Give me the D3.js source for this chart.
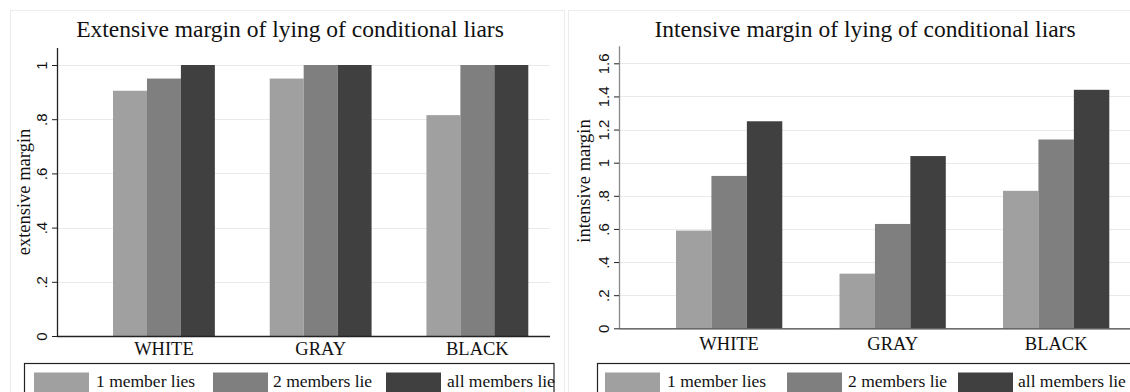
<!DOCTYPE html>
<html><head><meta charset="utf-8">
<script src="https://cdn.jsdelivr.net/npm/d3@7"></script>
<style>
html,body{margin:0;padding:0;background:#fff;}
svg{display:block;}
</style></head>
<body>
<svg id="chart" width="1130" height="392"></svg>
<script>
// ---- data ----
const categories = ["WHITE", "GRAY", "BLACK"];
const series = ["1 member lies", "2 members lie", "all members lie"];
const extensiveValues = [
  [0.905, 0.95, 1.0],   // WHITE
  [0.95, 1.0, 1.0],     // GRAY
  [0.815, 1.0, 1.0]     // BLACK
];
const intensiveValues = [
  [0.59, 0.92, 1.25],   // WHITE
  [0.33, 0.63, 1.04],   // GRAY
  [0.83, 1.14, 1.44]    // BLACK
];
const extensiveTicks = [0, 0.2, 0.4, 0.6, 0.8, 1];
const extensiveTickLabels = ["0", ".2", ".4", ".6", ".8", "1"];
const intensiveTicks = [0, 0.2, 0.4, 0.6, 0.8, 1, 1.2, 1.4, 1.6];
const intensiveTickLabels = ["0", ".2", ".4", ".6", ".8", "1", "1.2", "1.4", "1.6"];
const titles = ["Extensive margin of lying of conditional liars", "Intensive margin of lying of conditional liars"];
const yTitles = ["extensive margin", "intensive margin"];

// ---- style ----
const colors = ["#a0a0a0", "#7f7f7f", "#404040"];
const serif = "'Liberation Serif','Times New Roman',serif";
const sans = "'Liberation Sans',Arial,sans-serif";

const svg = d3.select("#chart");

const panels = [
  {
    values: extensiveValues, ticks: extensiveTicks, tickLabels: extensiveTickLabels,
    title: titles[0], yTitle: yTitles[0], yMax: 1,
    box: [10, 10, 554, 400],
    axisX: 57, plotRight: 550, yTop: 65, yBottom: 336,
    bandRange: [113, 528.3],
    titleX: 290, titleY: 37,
    yTitleX: 30, yTitleY: 192,
    catY: 355,
    legendBox: [24.5, 363.5, 529.5, 40],
    legendX: [34, 213, 386], legendTextX: [96, 273, 447],
    yAxisColor: "#222", xAxisColor: "#222"
  },
  {
    values: intensiveValues, ticks: intensiveTicks, tickLabels: intensiveTickLabels,
    title: titles[1], yTitle: yTitles[1], yMax: 1.6,
    box: [568, 10, 600, 400],
    axisX: 619, plotRight: 1135, yTop: 63.3, yBottom: 328.3,
    bandRange: [676, 1109.3],
    titleX: 865, titleY: 37,
    yTitleX: 590, yTitleY: 181,
    catY: 349.5,
    legendBox: [597.5, 363.5, 600, 40],
    legendX: [605, 787, 958], legendTextX: [667, 848, 1018],
    yAxisColor: "#888", xAxisColor: "#444"
  }
];

panels.forEach(p => {
  const g = svg.append("g");
  // panel frame
  g.append("rect")
    .attr("x", p.box[0] + 0.5).attr("y", p.box[1] + 0.5)
    .attr("width", p.box[2]).attr("height", p.box[3])
    .attr("fill", "#fff").attr("stroke", "#ececec");

  const y = d3.scaleLinear().domain([0, p.yMax]).range([p.yBottom, p.yTop]);
  const x0 = d3.scaleBand().domain(categories).range(p.bandRange).paddingInner(0.35).paddingOuter(0);
  const x1 = d3.scaleBand().domain(series).range([0, x0.bandwidth()]).padding(0);

  // gridlines
  g.append("g").selectAll("line").data(p.ticks).join("line")
    .attr("x1", p.axisX).attr("x2", p.plotRight)
    .attr("y1", d => Math.round(y(d)) + 0.5).attr("y2", d => Math.round(y(d)) + 0.5)
    .attr("stroke", "#eaeaea").attr("stroke-width", 1.2);

  // bars
  const groups = g.append("g").selectAll("g").data(categories).join("g")
    .attr("transform", c => `translate(${x0(c)},0)`);
  groups.selectAll("rect").data((c, i) => series.map((s, j) => ({ s, v: p.values[i][j], j })))
    .join("rect")
    .attr("x", d => x1(d.s))
    .attr("width", x1.bandwidth())
    .attr("y", d => y(d.v))
    .attr("height", d => y(0) - y(d.v))
    .attr("fill", d => colors[d.j]);

  // y axis
  const yAxis = d3.axisLeft(y).tickValues(p.ticks)
    .tickFormat((d, i) => p.tickLabels[i]).tickSize(5).tickSizeOuter(0);
  const ya = g.append("g").attr("transform", `translate(${p.axisX},0)`).call(yAxis);
  ya.select(".domain").attr("stroke", p.yAxisColor).attr("stroke-width", 1.3)
    .attr("d", `M0.5,${p.yBottom}V${p.yTop - 17}`);
  ya.selectAll(".tick line").attr("stroke", "#222");
  ya.selectAll(".tick text")
    .attr("x", null).attr("dy", null)
    .attr("transform", "translate(-10,0) rotate(-90)")
    .attr("text-anchor", "middle")
    .style("font-family", sans).style("font-size", "15px").attr("fill", "#111");

  // x axis line
  g.append("line")
    .attr("x1", p.axisX).attr("x2", p.plotRight)
    .attr("y1", p.yBottom + 0.5).attr("y2", p.yBottom + 0.5)
    .attr("stroke", p.xAxisColor).attr("stroke-width", 1.3);

  // category labels
  g.append("g").selectAll("text").data(categories).join("text")
    .attr("x", c => x0(c) + x0.bandwidth() / 2)
    .attr("y", p.catY)
    .attr("text-anchor", "middle")
    .style("font-family", serif).style("font-size", "18.5px").attr("fill", "#111")
    .text(c => c);

  // title
  g.append("text").attr("x", p.titleX).attr("y", p.titleY)
    .attr("text-anchor", "middle")
    .style("font-family", serif).style("font-size", "23.5px").attr("fill", "#111")
    .text(p.title);

  // y title
  g.append("text")
    .attr("transform", `translate(${p.yTitleX},${p.yTitleY}) rotate(-90)`)
    .attr("text-anchor", "middle")
    .style("font-family", serif).style("font-size", "18.5px").attr("fill", "#111")
    .text(p.yTitle);

  // legend
  g.append("rect")
    .attr("x", p.legendBox[0]).attr("y", p.legendBox[1])
    .attr("width", p.legendBox[2]).attr("height", p.legendBox[3])
    .attr("fill", "#fff").attr("stroke", "#222").attr("stroke-width", 1.2);
  const li = g.append("g").selectAll("g").data(series).join("g");
  li.append("rect")
    .attr("x", (s, i) => p.legendX[i]).attr("y", 372.5)
    .attr("width", 55).attr("height", 30)
    .attr("fill", (s, i) => colors[i]);
  li.append("text")
    .attr("x", (s, i) => p.legendTextX[i]).attr("y", 387)
    .style("font-family", serif).style("font-size", "17.5px").attr("fill", "#111")
    .text(s => s);
});
</script>
</body></html>
